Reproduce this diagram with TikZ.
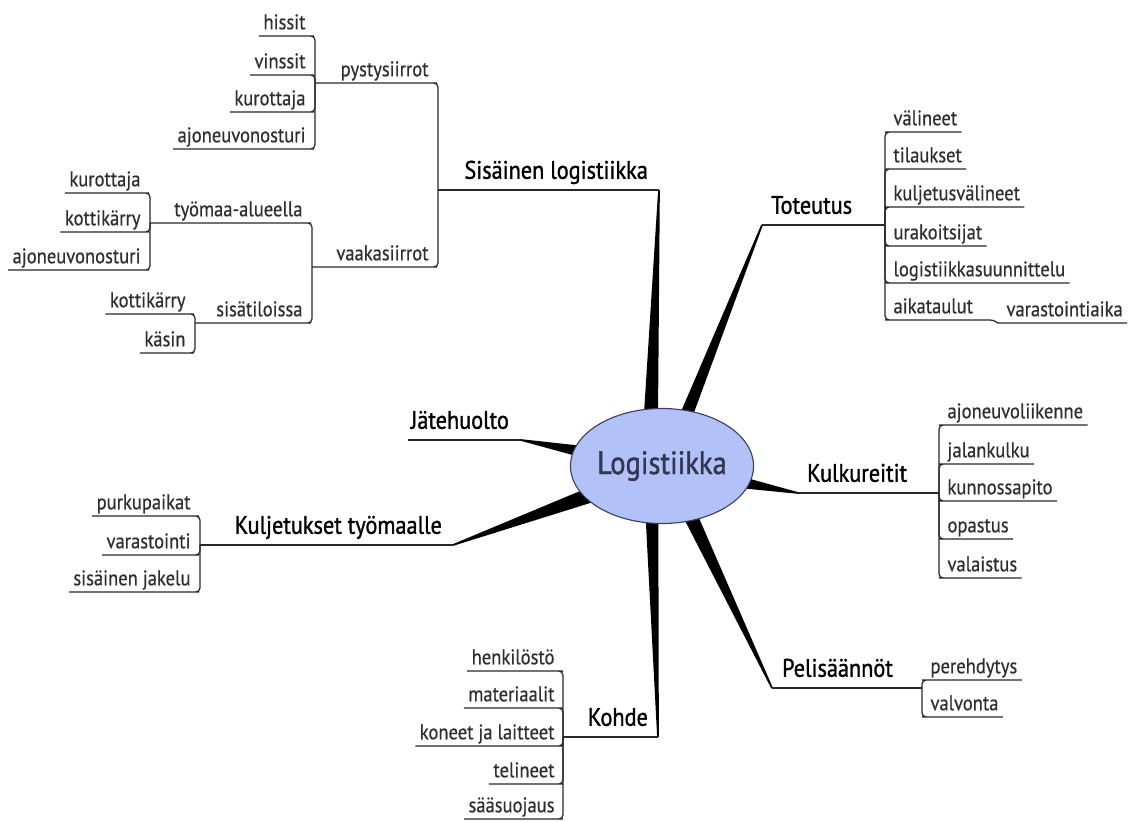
\documentclass[tikz,border=0pt]{standalone}
\usepackage{fontspec}
\setmainfont{PT Sans}[FakeStretch=0.88]
\newfontfamily\topicfont{PT Sans}[FakeStretch=0.88, FakeBold=1.2]
\newfontfamily\leaffont{PT Sans}[FakeStretch=0.88, FakeBold=0.5]
\usetikzlibrary{shapes.geometric,calc}

\definecolor{bubble}{RGB}{178,194,248}
\definecolor{bubbleline}{RGB}{60,64,90}
\definecolor{bubbletext}{RGB}{50,55,80}
\definecolor{linegray}{RGB}{40,40,40}

\tikzset{
  topic/.style={font=\topicfont\fontsize{18}{21}\selectfont, text depth=5pt, inner xsep=2pt, inner ysep=2.8pt},
  leaf/.style={font=\leaffont\fontsize{15}{18}\selectfont, text=black!82, text depth=3.5pt, inner xsep=3pt, inner ysep=1.1pt},
  branch/.style={draw=linegray, line width=0.9pt, rounded corners=3pt},
}

\begin{document}
\begin{tikzpicture}[x=0.025cm,y=-0.025cm]
    \useasboundingbox (0,0) rectangle (1129,821);

    % spoke tips, bases and junctions
    \coordinate (sis-t) at (659,190);   \coordinate (sis-j) at (438,190);   \coordinate (sis-b) at (651,414);
    \coordinate (tot-t) at (762,225);   \coordinate (tot-j) at (885,225);   \coordinate (tot-b) at (686,416);
    \coordinate (jate-t) at (521,440);                                      \coordinate (jate-b) at (584,452);
    \coordinate (kulj-t) at (453,545);  \coordinate (kulj-j) at (200,545);  \coordinate (kulj-b) at (593,494);
    \coordinate (kulk-t) at (798,493);  \coordinate (kulk-j) at (939,493);  \coordinate (kulk-b) at (739,482);
    \coordinate (kohde-t) at (658,737); \coordinate (kohde-j) at (563,737); \coordinate (kohde-b) at (652,518);
    \coordinate (peli-t) at (772,688);  \coordinate (peli-j) at (922,688);  \coordinate (peli-b) at (690,515);

    \foreach \b/\t/\w in {sis-b/sis-t/5pt, tot-b/tot-t/4.5pt, jate-b/jate-t/4.2pt, kulj-b/kulj-t/5.5pt,
                          kulk-b/kulk-t/4.2pt, kohde-b/kohde-t/4.5pt, peli-b/peli-t/5pt}
        \fill ($(\b)!\w!90:(\t)$) -- ($(\t)!0.6pt!-90:(\b)$) -- ($(\t)!0.6pt!90:(\b)$) -- ($(\b)!\w!-90:(\t)$) -- cycle;

    \node[ellipse, draw=bubbleline, fill=bubble, line width=0.8pt, minimum width=121.6pt, minimum height=81.8pt, inner sep=0pt,
          text=bubbletext, font=\topicfont\fontsize{23}{26}\selectfont] (logi) at (662,466) {Logistiikka};

    % main topics
    \node[topic, anchor=south east] (sis) at (651,190) {Sisäinen logistiikka};
    \node[topic, anchor=south west] (tot) at (768,225) {Toteutus};
    \node[topic, anchor=south east] (jate) at (512,440) {Jätehuolto};
    \node[topic, anchor=south east] (kulj) at (445,545) {Kuljetukset työmaalle};
    \node[topic, anchor=south west] (kulk) at (804,493) {Kulkureitit};
    \node[topic, anchor=south east] (kohde) at (651,737) {Kohde};
    \node[topic, anchor=south west] (peli) at (779,688) {Pelisäännöt};

    \draw[branch] (sis-t) -- (sis-j);
    \draw[branch] (tot-t) -- (tot-j);
    \draw[branch] (jate-t) -- (jate.south west);
    \draw[branch] (kulj-t) -- (kulj-j);
    \draw[branch] (kulk-t) -- (kulk-j);
    \draw[branch] (kohde-t) -- (kohde-j);
    \draw[branch] (peli-t) -- (peli-j);

    % Sisäinen logistiikka
    \coordinate (pyst-j) at (315,83);
    \coordinate (vaaka-j) at (312,267);
    \node[leaf, anchor=south east] (pyst) at (433,83) {pystysiirrot};
    \node[leaf, anchor=south east] (vaaka) at (433,267) {vaakasiirrot};
    \draw[branch] (sis-j) |- (pyst.south east) -- (pyst-j);
    \draw[branch] (sis-j) |- (vaaka.south east) -- (vaaka-j);

    \node[leaf, anchor=south east] (hissit) at (310,36) {hissit};
    \node[leaf, anchor=south east] (vinssit) at (310,75) {vinssit};
    \node[leaf, anchor=south east] (kur1) at (310,112) {kurottaja};
    \node[leaf, anchor=south east] (ajo1) at (310,149) {ajoneuvonosturi};
    \foreach \n in {hissit, vinssit, kur1, ajo1}
        \draw[branch] (pyst-j) |- (\n.south east) -- (\n.south west);

    \coordinate (tyo-j) at (150,223);
    \coordinate (sisa-j) at (195,323);
    \node[leaf, anchor=south east] (tyo) at (307,223) {työmaa-alueella};
    \node[leaf, anchor=south east] (sisa) at (307,323) {sisätiloissa};
    \draw[branch] (vaaka-j) |- (tyo.south east) -- (tyo-j);
    \draw[branch] (vaaka-j) |- (sisa.south east) -- (sisa-j);

    \node[leaf, anchor=south east] (kur2) at (145,193) {kurottaja};
    \node[leaf, anchor=south east] (kotti1) at (145,232) {kottikärry};
    \node[leaf, anchor=south east] (ajo2) at (145,270) {ajoneuvonosturi};
    \foreach \n in {kur2, kotti1, ajo2}
        \draw[branch] (tyo-j) |- (\n.south east) -- (\n.south west);

    \node[leaf, anchor=south east] (kotti2) at (190,314) {kottikärry};
    \node[leaf, anchor=south east] (kasin) at (190,353) {käsin};
    \foreach \n in {kotti2, kasin}
        \draw[branch] (sisa-j) |- (\n.south east) -- (\n.south west);

    % Toteutus
    \node[leaf, anchor=south west] (valin) at (889,132) {välineet};
    \node[leaf, anchor=south west] (tilau) at (889,169) {tilaukset};
    \node[leaf, anchor=south west] (kulje) at (889,207) {kuljetusvälineet};
    \node[leaf, anchor=south west] (urak) at (889,246) {urakoitsijat};
    \node[leaf, anchor=south west] (suun) at (889,283) {logistiikkasuunnittelu};
    \node[leaf, anchor=south west] (aika) at (889,320) {aikataulut};
    \foreach \n in {valin, tilau, kulje, urak, suun}
        \draw[branch] (tot-j) |- (\n.south west) -- (\n.south east);
    \coordinate (aika-j) at (990,320);
    \node[leaf, anchor=south west] (varai) at (1002,323) {varastointiaika};
    \draw[branch] (tot-j) |- (aika.south west) -- (aika-j);
    \draw[branch] (aika-j) to[out=0,in=180] (varai.south west) -- (varai.south east);

    % Kuljetukset työmaalle
    \node[leaf, anchor=south east] (purku) at (195,516) {purkupaikat};
    \node[leaf, anchor=south east] (varast) at (195,555) {varastointi};
    \node[leaf, anchor=south east] (jakelu) at (195,592) {sisäinen jakelu};
    \foreach \n in {purku, varast, jakelu}
        \draw[branch] (kulj-j) |- (\n.south east) -- (\n.south west);

    % Kulkureitit
    \node[leaf, anchor=south west] (ajoli) at (943,425) {ajoneuvoliikenne};
    \node[leaf, anchor=south west] (jalan) at (943,464) {jalankulku};
    \node[leaf, anchor=south west] (kunno) at (943,501) {kunnossapito};
    \node[leaf, anchor=south west] (opast) at (943,539) {opastus};
    \node[leaf, anchor=south west] (valai) at (943,578) {valaistus};
    \foreach \n in {ajoli, jalan, kunno, opast, valai}
        \draw[branch] (kulk-j) |- (\n.south west) -- (\n.south east);

    % Kohde
    \node[leaf, anchor=south east] (henk) at (559,671) {henkilöstö};
    \node[leaf, anchor=south east] (mater) at (559,708) {materiaalit};
    \node[leaf, anchor=south east] (konee) at (559,746) {koneet ja laitteet};
    \node[leaf, anchor=south east] (telin) at (559,784) {telineet};
    \node[leaf, anchor=south east] (saasu) at (559,819) {sääsuojaus};
    \foreach \n in {henk, mater, konee, telin, saasu}
        \draw[branch] (kohde-j) |- (\n.south east) -- (\n.south west);

    % Pelisäännöt
    \node[leaf, anchor=south west] (pereh) at (926,680) {perehdytys};
    \node[leaf, anchor=south west] (valvo) at (926,717) {valvonta};
    \foreach \n in {pereh, valvo}
        \draw[branch] (peli-j) |- (\n.south west) -- (\n.south east);
\end{tikzpicture}
\end{document}
